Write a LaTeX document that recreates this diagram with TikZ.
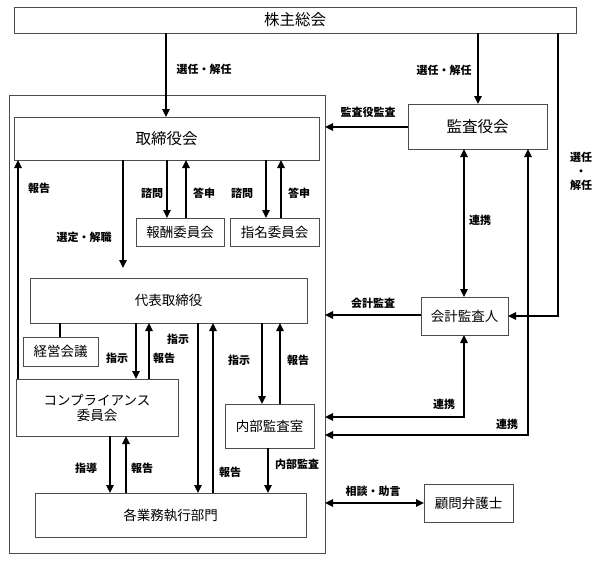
\documentclass[tikz,border=0pt]{standalone}
\usepackage{fontspec}
\setmainfont{Noto Sans CJK JP}
\usetikzlibrary{arrows.meta}
\begin{document}
\begin{tikzpicture}[x=1pt,y=-1pt,
  box/.style={draw=black!70, line width=0.8pt, inner sep=0pt, outer sep=0pt, anchor=north west, font=\fontsize{13.5}{15}\selectfont},
  bigbox/.style={box, font=\fontsize{15.5}{17}\selectfont},
  arr/.style={line width=1.4pt, -{Triangle[length=8pt,width=7.5pt]}},
  darr/.style={line width=1.4pt, {Triangle[length=8pt,width=7.5pt]}-{Triangle[length=8pt,width=7.5pt]}},
  ln/.style={line width=1.2pt},
  lbl/.style={font=\bfseries\fontsize{11}{13}\selectfont, inner sep=0pt}]
\useasboundingbox (0,0) rectangle (600,560);
% container
\node[box, minimum width=316pt, minimum height=458pt] (outer) at (9,95) {};
% boxes
\node[bigbox, minimum width=562pt, minimum height=26pt] (sh) at (14,7) {株主総会};
\node[bigbox, minimum width=305pt, minimum height=43pt] (tori) at (14,117) {取締役会};
\node[bigbox, minimum width=139pt, minimum height=45pt] (kansa) at (408,104) {監査役会};
\node[box, minimum width=88pt, minimum height=28pt] (hoshu) at (136,218) {報酬委員会};
\node[box, minimum width=89pt, minimum height=28pt] (shimei) at (230,218) {指名委員会};
\node[box, minimum width=277pt, minimum height=45pt] (daihyo) at (30,278) {代表取締役};
\node[box, minimum width=75pt, minimum height=29pt] (keiei) at (23,337) {経営会議};
\node[box, minimum width=162pt, minimum height=57pt, align=center] (comp) at (16,379) {コンプライアンス\\委員会};
\node[box, minimum width=89pt, minimum height=44pt] (naibu) at (225,404) {内部監査室};
\node[box, minimum width=271pt, minimum height=44pt] (kaku) at (35,493) {各業務執行部門};
\node[box, minimum width=87pt, minimum height=38pt] (kaikei) at (421,297) {会計監査人};
\node[box, minimum width=89pt, minimum height=38pt] (komon) at (424,484) {顧問弁護士};
% connectors
\draw[arr] (166,0 |- sh.south) -- (166,0 |- tori.north);
\draw[arr] (478,0 |- sh.south) -- (478,0 |- kansa.north);
\draw[arr] (558,0 |- sh.south) |- (kaikei.east);
\draw[arr] (kansa.west |- 0,127) -- (outer.east |- 0,127);
\draw[darr] (464,0 |- kansa.south) -- (464,0 |- kaikei.north);
\draw[arr] (kaikei.west |- 0,315) -- (outer.east |- 0,315);
\draw[darr] (464,0 |- kaikei.south) |- (outer.east |- 0,417);
\draw[darr] (528,0 |- kansa.south) |- (outer.east |- 0,435);
\draw[darr] (outer.east |- komon.west) -- (komon.west);
\draw[arr] (18,0 |- comp.north) -- (18,0 |- tori.south);
\draw[arr, shorten >=10pt] (123,0 |- tori.south) -- (123,0 |- daihyo.north);
\draw[arr] (167,0 |- tori.south) -- (167,0 |- hoshu.north);
\draw[arr] (186,0 |- hoshu.north) -- (186,0 |- tori.south);
\draw[arr] (266,0 |- tori.south) -- (266,0 |- shimei.north);
\draw[arr] (281,0 |- shimei.north) -- (281,0 |- tori.south);
\draw[ln] (60,0 |- daihyo.south) -- (60,0 |- keiei.north);
\draw[arr] (136,0 |- daihyo.south) -- (136,0 |- comp.north);
\draw[arr] (149,0 |- comp.north) -- (149,0 |- daihyo.south);
\draw[arr] (110,0 |- comp.south) -- (110,0 |- kaku.north);
\draw[arr] (126,0 |- kaku.north) -- (126,0 |- comp.south);
\draw[arr] (198,0 |- daihyo.south) -- (198,0 |- kaku.north);
\draw[arr] (213,0 |- kaku.north) -- (213,0 |- daihyo.south);
\draw[arr] (262,0 |- daihyo.south) -- (262,0 |- naibu.north);
\draw[arr] (280,0 |- naibu.north) -- (280,0 |- daihyo.south);
\draw[arr] (268,0 |- naibu.south) -- (268,0 |- kaku.north);
% labels
\node[lbl] (l1) at (204,69) {選任・解任};
\node[lbl] (l2) at (444,70) {選任・解任};
\node[lbl, align=center, font=\bfseries\fontsize{11}{14}\selectfont] (l3) at (581,171) {選任\\・\\解任};
\node[lbl] (l4) at (368,112) {監査役監査};
\node[lbl] (l5) at (39,188) {報告};
\node[lbl] (l6) at (152,193) {諮問};
\node[lbl] (l7) at (204,193) {答申};
\node[lbl] (l8) at (242,193) {諮問};
\node[lbl] (l9) at (299,193) {答申};
\node[lbl] (l10) at (84,237) {選定・解職};
\node[lbl] (l11) at (480,220) {連携};
\node[lbl] (l12) at (373,303) {会計監査};
\node[lbl] (l13) at (117,358) {指示};
\node[lbl] (l14) at (164,358) {報告};
\node[lbl] (l15) at (178,339) {指示};
\node[lbl] (l16) at (239,360) {指示};
\node[lbl] (l17) at (298,360) {報告};
\node[lbl] (l18) at (444,404) {連携};
\node[lbl] (l19) at (507,424) {連携};
\node[lbl] (l20) at (86,468) {指導};
\node[lbl] (l21) at (142,468) {報告};
\node[lbl] (l22) at (230,472) {報告};
\node[lbl] (l23) at (297,464) {内部監査};
\node[lbl] (l24) at (373,491) {相談・助言};
\end{tikzpicture}
\end{document}
